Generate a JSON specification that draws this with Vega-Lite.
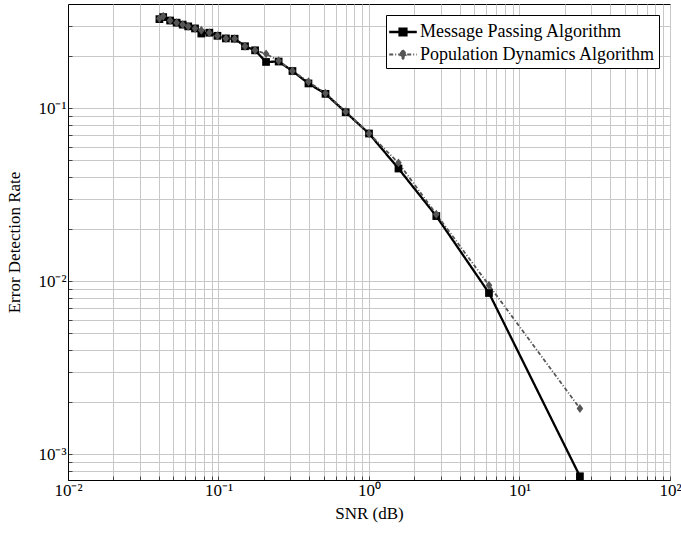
{
  "$schema": "https://vega.github.io/schema/vega-lite/v6.json",
  "width": 602,
  "height": 476,
  "autosize": "none",
  "padding": {"left": 68, "top": 4, "right": 11, "bottom": 53},
  "background": "white",
  "config": {
    "font": "Liberation Serif",
    "view": {"stroke": "black", "strokeWidth": 1},
    "axis": {
      "grid": true,
      "gridColor": "#c8c8c8",
      "gridWidth": 1,
      "gridOpacity": 1,
      "domainColor": "black",
      "domainWidth": 1,
      "tickColor": "#444444",
      "tickSize": -4,
      "labelFont": "Liberation Serif",
      "labelFontSize": 17,
      "labelColor": "black",
      "titleFont": "Liberation Serif",
      "titleFontSize": 17,
      "titleFontWeight": "normal",
      "titleColor": "black",
      "labelOverlap": false,
      "labelFlush": false,
      "labelBound": false
    }
  },
  "data": {
    "values": [
      {"snr": 0.0405, "rate": 0.327, "series": "Message Passing Algorithm", "marker": "MP"},
      {"snr": 0.0429, "rate": 0.336, "series": "Message Passing Algorithm", "marker": "MP"},
      {"snr": 0.0477, "rate": 0.321, "series": "Message Passing Algorithm", "marker": "MP"},
      {"snr": 0.0527, "rate": 0.312, "series": "Message Passing Algorithm", "marker": "MP"},
      {"snr": 0.0578, "rate": 0.304, "series": "Message Passing Algorithm", "marker": "MP"},
      {"snr": 0.0629, "rate": 0.297, "series": "Message Passing Algorithm", "marker": "MP"},
      {"snr": 0.0698, "rate": 0.289, "series": "Message Passing Algorithm", "marker": "MP"},
      {"snr": 0.0769, "rate": 0.270, "series": "Message Passing Algorithm", "marker": "MP"},
      {"snr": 0.0869, "rate": 0.273, "series": "Message Passing Algorithm", "marker": "MP"},
      {"snr": 0.0984, "rate": 0.262, "series": "Message Passing Algorithm", "marker": "MP"},
      {"snr": 0.112, "rate": 0.253, "series": "Message Passing Algorithm", "marker": "MP"},
      {"snr": 0.128, "rate": 0.252, "series": "Message Passing Algorithm", "marker": "MP"},
      {"snr": 0.150, "rate": 0.228, "series": "Message Passing Algorithm", "marker": "MP"},
      {"snr": 0.175, "rate": 0.216, "series": "Message Passing Algorithm", "marker": "MP"},
      {"snr": 0.207, "rate": 0.185, "series": "Message Passing Algorithm", "marker": "MP"},
      {"snr": 0.251, "rate": 0.186, "series": "Message Passing Algorithm", "marker": "MP"},
      {"snr": 0.310, "rate": 0.164, "series": "Message Passing Algorithm", "marker": "MP"},
      {"snr": 0.396, "rate": 0.139, "series": "Message Passing Algorithm", "marker": "MP"},
      {"snr": 0.514, "rate": 0.121, "series": "Message Passing Algorithm", "marker": "MP"},
      {"snr": 0.700, "rate": 0.0948, "series": "Message Passing Algorithm", "marker": "MP"},
      {"snr": 1.00, "rate": 0.0714, "series": "Message Passing Algorithm", "marker": "MP"},
      {"snr": 1.57, "rate": 0.0448, "series": "Message Passing Algorithm", "marker": "MP"},
      {"snr": 2.80, "rate": 0.0238, "series": "Message Passing Algorithm", "marker": "MP"},
      {"snr": 6.27, "rate": 0.00855, "series": "Message Passing Algorithm", "marker": "MP"},
      {"snr": 25.2, "rate": 0.000746, "series": "Message Passing Algorithm", "marker": "MP"},
      {"snr": 0.0405, "rate": 0.330, "series": "Population Dynamics Algorithm", "marker": "PD"},
      {"snr": 0.0429, "rate": 0.340, "series": "Population Dynamics Algorithm", "marker": "PD"},
      {"snr": 0.0477, "rate": 0.321, "series": "Population Dynamics Algorithm", "marker": "PD"},
      {"snr": 0.0527, "rate": 0.312, "series": "Population Dynamics Algorithm", "marker": "PD"},
      {"snr": 0.0578, "rate": 0.304, "series": "Population Dynamics Algorithm", "marker": "PD"},
      {"snr": 0.0629, "rate": 0.297, "series": "Population Dynamics Algorithm", "marker": "PD"},
      {"snr": 0.0698, "rate": 0.289, "series": "Population Dynamics Algorithm", "marker": "PD"},
      {"snr": 0.0769, "rate": 0.282, "series": "Population Dynamics Algorithm", "marker": "PD"},
      {"snr": 0.0869, "rate": 0.273, "series": "Population Dynamics Algorithm", "marker": "PD"},
      {"snr": 0.0984, "rate": 0.262, "series": "Population Dynamics Algorithm", "marker": "PD"},
      {"snr": 0.112, "rate": 0.253, "series": "Population Dynamics Algorithm", "marker": "PD"},
      {"snr": 0.128, "rate": 0.252, "series": "Population Dynamics Algorithm", "marker": "PD"},
      {"snr": 0.150, "rate": 0.228, "series": "Population Dynamics Algorithm", "marker": "PD"},
      {"snr": 0.175, "rate": 0.216, "series": "Population Dynamics Algorithm", "marker": "PD"},
      {"snr": 0.207, "rate": 0.206, "series": "Population Dynamics Algorithm", "marker": "PD"},
      {"snr": 0.251, "rate": 0.188, "series": "Population Dynamics Algorithm", "marker": "PD"},
      {"snr": 0.310, "rate": 0.164, "series": "Population Dynamics Algorithm", "marker": "PD"},
      {"snr": 0.396, "rate": 0.142, "series": "Population Dynamics Algorithm", "marker": "PD"},
      {"snr": 0.514, "rate": 0.122, "series": "Population Dynamics Algorithm", "marker": "PD"},
      {"snr": 0.700, "rate": 0.0955, "series": "Population Dynamics Algorithm", "marker": "PD"},
      {"snr": 1.00, "rate": 0.0714, "series": "Population Dynamics Algorithm", "marker": "PD"},
      {"snr": 1.57, "rate": 0.0483, "series": "Population Dynamics Algorithm", "marker": "PD"},
      {"snr": 2.80, "rate": 0.0244, "series": "Population Dynamics Algorithm", "marker": "PD"},
      {"snr": 6.27, "rate": 0.00948, "series": "Population Dynamics Algorithm", "marker": "PD"},
      {"snr": 25.2, "rate": 0.00184, "series": "Population Dynamics Algorithm", "marker": "PD"}
    ]
  },
  "encoding": {
    "x": {
      "field": "snr",
      "type": "quantitative",
      "scale": {"type": "log", "domain": [0.01, 100], "nice": false},
      "axis": {
        "title": "SNR (dB)",
        "values": [0.01, 0.02, 0.03, 0.04, 0.05, 0.06, 0.07, 0.08, 0.09, 0.1, 0.2, 0.3, 0.4, 0.5, 0.6, 0.7, 0.8, 0.9, 1, 2, 3, 4, 5, 6, 7, 8, 9, 10, 20, 30, 40, 50, 60, 70, 80, 90, 100],
        "labelExpr": "datum.value == 0.01 ? '10⁻²' : datum.value == 0.1 ? '10⁻¹' : datum.value == 1 ? '10⁰' : datum.value == 10 ? '10¹' : datum.value == 100 ? '10²' : ''",
        "labelPadding": 6,
        "titlePadding": 7
      }
    },
    "y": {
      "field": "rate",
      "type": "quantitative",
      "scale": {"type": "log", "domain": [0.00071, 0.4], "nice": false},
      "axis": {
        "title": "Error Detection Rate",
        "values": [0.0008, 0.0009, 0.001, 0.002, 0.003, 0.004, 0.005, 0.006, 0.007, 0.008, 0.009, 0.01, 0.02, 0.03, 0.04, 0.05, 0.06, 0.07, 0.08, 0.09, 0.1, 0.2, 0.3],
        "labelExpr": "datum.value == 0.001 ? '10⁻³' : datum.value == 0.01 ? '10⁻²' : datum.value == 0.1 ? '10⁻¹' : ''",
        "labelPadding": 6,
        "titlePadding": 14
      }
    }
  },
  "layer": [
    {
      "mark": {"type": "line", "clip": true},
      "encoding": {
        "color": {
          "field": "series",
          "type": "nominal",
          "scale": {"domain": ["Message Passing Algorithm", "Population Dynamics Algorithm"], "range": ["#000000", "#555555"]},
          "legend": {
            "title": null,
            "orient": "top-right",
            "offset": 11,
            "fillColor": "white",
            "strokeColor": "black",
            "padding": 4,
            "labelFont": "Liberation Serif",
            "labelFontSize": 18,
            "labelColor": "black",
            "labelLimit": 0,
            "labelOffset": 4,
            "rowPadding": 1,
            "symbolSize": 529,
            "encode": {
              "symbols": {
                "update": {
                  "shape": {"signal": "datum.value === 'Message Passing Algorithm' ? 'M-1.2,0H1.2M-0.3,-0.3H0.3V0.3H-0.3Z' : 'M-1.2,0H1.2M0,-0.38L0.3,0L0,0.38L-0.3,0Z'"},
                  "fill": {"signal": "datum.value === 'Message Passing Algorithm' ? '#000000' : '#555555'"},
                  "stroke": {"signal": "datum.value === 'Message Passing Algorithm' ? '#000000' : '#555555'"},
                  "strokeWidth": {"value": 2},
                  "strokeDash": {"signal": "datum.value === 'Message Passing Algorithm' ? [1, 0] : [4, 2, 1, 2]"},
                  "opacity": {"value": 1}
                }
              }
            }
          }
        },
        "strokeDash": {
          "field": "series",
          "type": "nominal",
          "scale": {"domain": ["Message Passing Algorithm", "Population Dynamics Algorithm"], "range": [[1, 0], [4, 2, 1, 2]]},
          "legend": null
        },
        "strokeWidth": {
          "field": "series",
          "type": "nominal",
          "scale": {"domain": ["Message Passing Algorithm", "Population Dynamics Algorithm"], "range": [2.3, 1.8]},
          "legend": null
        }
      }
    },
    {
      "mark": {"type": "point", "filled": true, "opacity": 1, "size": 60, "clip": true},
      "encoding": {
        "color": {
          "field": "series",
          "type": "nominal",
          "scale": {"domain": ["Message Passing Algorithm", "Population Dynamics Algorithm"], "range": ["#000000", "#555555"]},
          "legend": null
        },
        "shape": {
          "field": "marker",
          "type": "nominal",
          "scale": {"domain": ["MP", "PD"], "range": ["square", "M0,-1.15L0.85,0L0,1.15L-0.85,0Z"]},
          "legend": null
        }
      }
    }
  ]
}
